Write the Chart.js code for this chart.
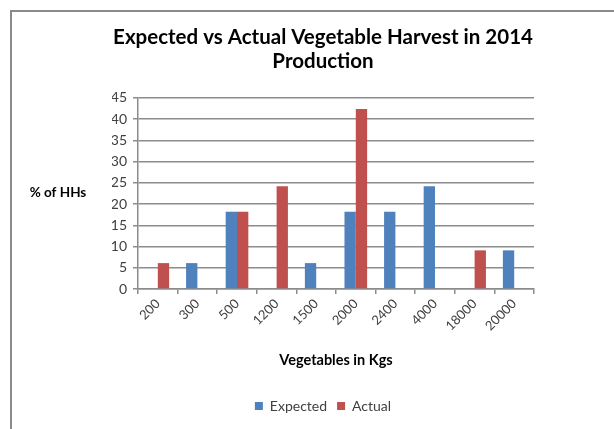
<!DOCTYPE html>
<html>
<head>
<meta charset="utf-8">
<script src="https://cdn.jsdelivr.net/npm/chart.js@4/dist/chart.umd.min.js"></script>
<style>
  html, body { margin: 0; padding: 0; background: #fff; }
  body { width: 614px; height: 429px; position: relative; overflow: hidden; }
  #frame { position: absolute; left: 10px; top: 10px; width: 700px; height: 600px;
           border: 2px solid #8a8a8a; box-sizing: border-box; }
  #chart { position: absolute; left: 0; top: 0; }
</style>
</head>
<body>
<div id="frame"></div>
<canvas id="chart" width="614" height="429"></canvas>
<script>
// Harvest size classes (kg) and share of households (%)
const categories = ['200', '300', '500', '1200', '1500', '2000', '2400', '4000', '18000', '20000'];
const expected   = [null, 6.1, 18.2, null, 6.1, 18.2, 18.2, 24.2, null, 9.1];
const actual     = [6.1, null, 18.2, 24.2, null, 42.4, null, null, 9.1, null];
const yTicks     = { min: 0, max: 45, step: 5 };

const FONT = 'Lato, "Open Sans", sans-serif';
const GRID = '#8c8c8c';

// Horizontal y-axis caption to the left of the value axis
const yCaption = {
  id: 'yCaption',
  afterDraw(chart) {
    const { ctx, chartArea } = chart;
    ctx.save();
    ctx.font = 'bold 13.5px ' + FONT;
    ctx.fillStyle = '#000';
    ctx.textAlign = 'center';
    ctx.textBaseline = 'middle';
    ctx.fillText('% of HHs', 58, chartArea.top + 95);
    ctx.restore();
  }
};

new Chart(document.getElementById('chart'), {
  type: 'bar',
  data: {
    labels: categories,
    datasets: [
      { label: 'Expected', data: expected, backgroundColor: '#4F81BD' },
      { label: 'Actual',   data: actual,   backgroundColor: '#C0504D' }
    ]
  },
  options: {
    responsive: false,
    animation: false,
    devicePixelRatio: 1,
    datasets: { bar: { categoryPercentage: 0.572, barPercentage: 1.0 } },
    layout: { padding: { left: 112, right: 80, top: 0, bottom: 6 } },
    plugins: {
      title: {
        display: true,
        text: ['Expected vs Actual Vegetable Harvest in 2014', 'Production'],
        color: '#000',
        font: { family: FONT, size: 20.5, weight: 'bold', lineHeight: 1.15 },
        padding: { top: 26, bottom: 24.8 }
      },
      legend: {
        position: 'bottom',
        labels: {
          color: '#404040',
          font: { family: FONT, size: 14 },
          boxWidth: 8, boxHeight: 8, padding: 10
        }
      },
      tooltip: { enabled: false }
    },
    scales: {
      x: {
        offset: true,
        afterFit(scale) { scale.height = 100; },
        grid: { display: true, drawOnChartArea: false, drawTicks: true, tickLength: 5,
                color: GRID, lineWidth: 1.5, offset: true },
        border: { display: true, color: GRID, width: 1.5 },
        ticks: { color: '#404040', font: { family: FONT, size: 13 },
                 minRotation: 45, maxRotation: 45, padding: 2, autoSkip: false },
        title: { display: true, text: 'Vegetables in Kgs', color: '#000',
                 font: { family: FONT, size: 14.5, weight: 'bold', lineHeight: 1.2 },
                 padding: { top: 0, bottom: 20 } }
      },
      y: {
        min: yTicks.min, max: yTicks.max,
        afterFit(scale) { scale.width = 26; },
        grid: { color: GRID, lineWidth: 1.5, tickLength: 5 },
        border: { display: true, color: GRID, width: 1.5 },
        ticks: { stepSize: yTicks.step, color: '#404040', font: { family: FONT, size: 14 }, padding: 6 }
      }
    }
  },
  plugins: [yCaption]
});
</script>
</body>
</html>
